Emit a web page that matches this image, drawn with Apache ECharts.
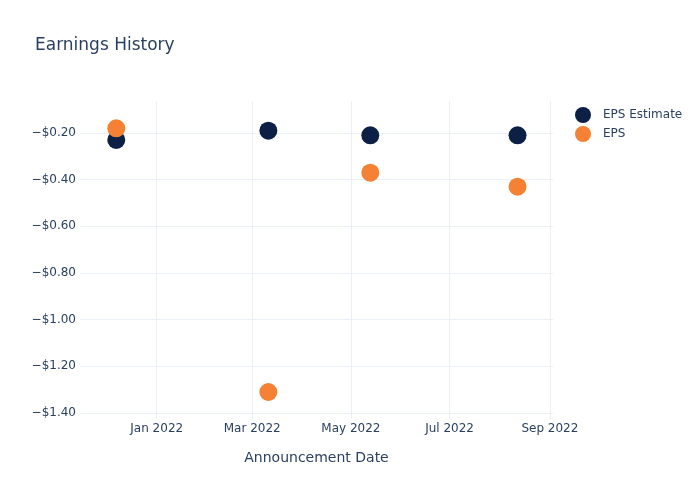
<!DOCTYPE html>
<html><head><meta charset="utf-8">
<script src="https://cdn.jsdelivr.net/npm/echarts@6/dist/echarts.min.js"></script>
<style>html,body{margin:0;padding:0;background:#fff}#c{width:700px;height:500px}</style>
</head><body><div id="c"></div>
<script>
const dates = ['2021-12-07', '2022-03-11', '2022-05-13', '2022-08-12'];
const epsEstimate = [-0.23, -0.19, -0.21, -0.21];
const eps = [-0.18, -1.31, -0.37, -0.43];
const xTickDates = ['2022-01-01', '2022-03-01', '2022-05-01', '2022-07-01', '2022-09-01'];
const yTicks = [-1.4, -1.2, -1.0, -0.8, -0.6, -0.4, -0.2];
const monthNames = ['Jan','Feb','Mar','Apr','May','Jun','Jul','Aug','Sep','Oct','Nov','Dec'];

const ts = s => { const p = s.split('-').map(Number); return Date.UTC(p[0], p[1]-1, p[2]); };
const xTicks = xTickDates.map(ts);
const textColor = '#2a3f5f';
const gridColor = '#ebf0f8';
const font = '"DejaVu Sans", Verdana, sans-serif';

const chart = echarts.init(document.getElementById('c'), null, {renderer: 'canvas'});
chart.setOption({
  backgroundColor: '#fff',
  animation: false,
  title: {text: 'Earnings History', left: 30, top: 32, textStyle: {fontFamily: font, fontSize: 17, fontWeight: 'normal', color: textColor}},
  legend: {
    orient: 'vertical', left: 570, top: 102, itemGap: 3, itemWidth: 16, itemHeight: 16,
    textStyle: {fontFamily: font, fontSize: 12, color: textColor, padding: [0, 0, 0, 7]},
    data: [{name: 'EPS Estimate', icon: 'circle'}, {name: 'EPS', icon: 'circle'}]
  },
  grid: {left: 80, right: 147, top: 101, bottom: 87},
  xAxis: {
    type: 'value',
    min: Date.UTC(2021, 10, 14, 14),
    max: Date.UTC(2022, 8, 2, 22),
    name: 'Announcement Date', nameLocation: 'middle', nameGap: 38,
    nameTextStyle: {fontFamily: font, fontSize: 14, color: textColor},
    axisLine: {show: false},
    axisTick: {show: true, customValues: xTicks, length: 6, lineStyle: {color: gridColor}},
    axisLabel: {customValues: xTicks, margin: 10, fontFamily: font, fontSize: 12, color: textColor,
      formatter: v => { const d = new Date(v); return monthNames[d.getUTCMonth()] + ' ' + d.getUTCFullYear(); }},
    splitLine: {show: true, lineStyle: {color: gridColor, width: 1}}
  },
  yAxis: {
    type: 'value', min: -1.4, max: -0.063,
    axisLine: {show: false},
    axisTick: {show: false, customValues: yTicks},
    axisLabel: {customValues: yTicks, margin: 4, fontFamily: font, fontSize: 12, color: textColor,
      formatter: v => '\u2212$' + Math.abs(v).toFixed(2)},
    splitLine: {show: true, lineStyle: {color: gridColor, width: 1}}
  },
  series: [
    {name: 'EPS Estimate', type: 'scatter', symbolSize: 18, itemStyle: {color: '#0c1f44', opacity: 1},
     data: dates.map((d, i) => [ts(d), epsEstimate[i]])},
    {name: 'EPS', type: 'scatter', symbolSize: 18, itemStyle: {color: '#f58134', opacity: 1},
     data: dates.map((d, i) => [ts(d), eps[i]])}
  ]
});
</script></body></html>
